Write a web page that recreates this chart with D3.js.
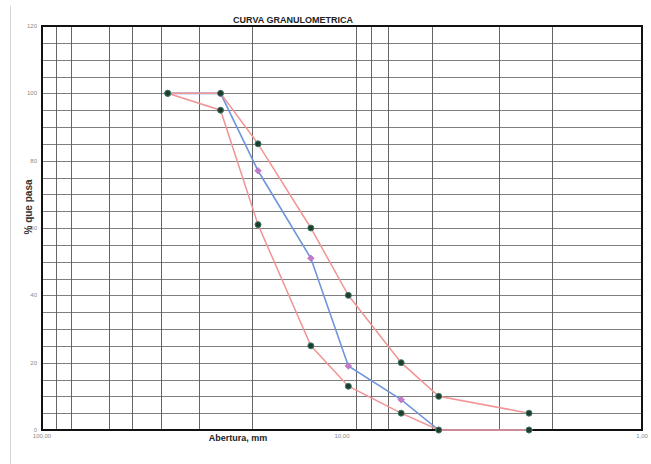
<!DOCTYPE html>
<html>
<head>
<meta charset="utf-8">
<script src="https://cdn.jsdelivr.net/npm/d3@7"></script>
<style>
  html, body { margin: 0; padding: 0; background: #fff; }
  svg { display: block; font-family: "Liberation Sans", Arial, sans-serif; }
</style>
</head>
<body>
<div id="chart"></div>
<script>
// sieve openings (mm) and % passing
const sieveSizes = [38.1, 25.4, 19.05, 12.7, 9.525, 6.35, 4.76, 2.38];
const upperLimit = [100, 100, 85, 60, 40, 20, 10, 5];
const lowerLimit = [100, 95, 61, 25, 13, 5, 0, 0];
const passing = [100, 100, 77, 51, 19, 9, 0, 0];

// axis stuff
const xTickValues = [100, 10, 1];
const xTickLabels = ['100,00', '10,00', '1,00'];
const yTickValues = [0, 20, 40, 60, 80, 100, 120];
const yGridValues = d3.range(0, 121, 5);
const xGridValues = [90, 80, 60, 50, 40, 30, 20, 9, 8, 7, 5, 3, 2];

const width = 651;
const height = 464;
const margin = { top: 26, right: 9, bottom: 34, left: 42 };

const svg = d3.select('#chart')
  .append('svg')
  .attr('width', width)
  .attr('height', height);

const x = d3.scaleLog()
  .domain([100, 1])
  .range([margin.left, width - margin.right]);

const y = d3.scaleLinear()
  .domain([0, 120])
  .range([height - margin.bottom, margin.top]);

// faint scanner edge on the left
svg.append('line')
  .attr('x1', 10.5).attr('x2', 10.5)
  .attr('y1', 6).attr('y2', height)
  .attr('stroke', '#d4d4d4')
  .attr('stroke-width', 1);

// grid
svg.append('g')
  .attr('class', 'grid-y')
  .selectAll('line')
  .data(yGridValues)
  .enter()
  .append('line')
  .attr('x1', margin.left)
  .attr('x2', width - margin.right)
  .attr('y1', d => Math.round(y(d)) + 0.5)
  .attr('y2', d => Math.round(y(d)) + 0.5)
  .attr('stroke', '#707070')
  .attr('stroke-width', 0.9);

svg.append('g')
  .attr('class', 'grid-x')
  .selectAll('line')
  .data(xGridValues)
  .enter()
  .append('line')
  .attr('x1', d => Math.round(x(d)) + 0.5)
  .attr('x2', d => Math.round(x(d)) + 0.5)
  .attr('y1', margin.top)
  .attr('y2', height - margin.bottom)
  .attr('stroke', '#555')
  .attr('stroke-width', 0.9);

// frame
svg.append('rect')
  .attr('x', margin.left)
  .attr('y', margin.top)
  .attr('width', width - margin.left - margin.right)
  .attr('height', height - margin.top - margin.bottom)
  .attr('fill', 'none')
  .attr('stroke', '#111')
  .attr('stroke-width', 2);

// tick labels
svg.append('g')
  .selectAll('text')
  .data(yTickValues)
  .enter()
  .append('text')
  .attr('x', margin.left - 5)
  .attr('y', d => y(d) + 2)
  .attr('text-anchor', 'end')
  .attr('font-size', 6)
  .attr('fill', '#8a8a8a')
  .text(d => d);

svg.append('g')
  .selectAll('text')
  .data(xTickValues)
  .enter()
  .append('text')
  .attr('x', d => x(d))
  .attr('y', height - margin.bottom + 8)
  .attr('text-anchor', 'middle')
  .attr('font-size', 6)
  .attr('fill', '#8a8a8a')
  .text((d, i) => xTickLabels[i]);

// titles
svg.append('text')
  .attr('x', 293)
  .attr('y', 23)
  .attr('text-anchor', 'middle')
  .attr('font-size', 9)
  .attr('font-weight', 'bold')
  .attr('fill', '#222')
  .text('CURVA GRANULOMETRICA');

svg.append('text')
  .attr('x', 238)
  .attr('y', 441)
  .attr('text-anchor', 'middle')
  .attr('font-size', 9)
  .attr('font-weight', 'bold')
  .attr('fill', '#222')
  .text('Abertura, mm');

svg.append('text')
  .attr('transform', 'translate(32,207) rotate(-90)')
  .attr('text-anchor', 'middle')
  .attr('font-size', 10)
  .attr('font-weight', 'bold')
  .attr('fill', '#333')
  .text('% que pasa');

// series
const line = d3.line()
  .x(d => x(d[0]))
  .y(d => y(d[1]));

const toPoints = (values) => sieveSizes.map((s, i) => [s, values[i]]);

svg.append('path')
  .attr('d', line(toPoints(passing)))
  .attr('fill', 'none')
  .attr('stroke', '#6f95dc')
  .attr('stroke-width', 1.6);

svg.append('g')
  .selectAll('path')
  .data(toPoints(passing))
  .enter()
  .append('path')
  .attr('d', d3.symbol().type(d3.symbolSquare).size(22))
  .attr('transform', d => 'translate(' + x(d[0]) + ',' + y(d[1]) + ') rotate(45)')
  .attr('fill', '#c27ac9')
  .attr('stroke', '#b06ab8')
  .attr('stroke-width', 0.6);

[upperLimit, lowerLimit].forEach(limit => {
  svg.append('path')
    .attr('d', line(toPoints(limit)))
    .attr('fill', 'none')
    .attr('stroke', '#f29494')
    .attr('stroke-width', 1.5);
});

[upperLimit, lowerLimit].forEach(limit => {
  svg.append('g')
    .selectAll('circle')
    .data(toPoints(limit))
    .enter()
    .append('circle')
    .attr('cx', d => x(d[0]))
    .attr('cy', d => y(d[1]))
    .attr('r', 3)
    .attr('fill', '#1f3d2c')
    .attr('stroke', '#3f7a6a')
    .attr('stroke-width', 1);
});
</script>
</body>
</html>
